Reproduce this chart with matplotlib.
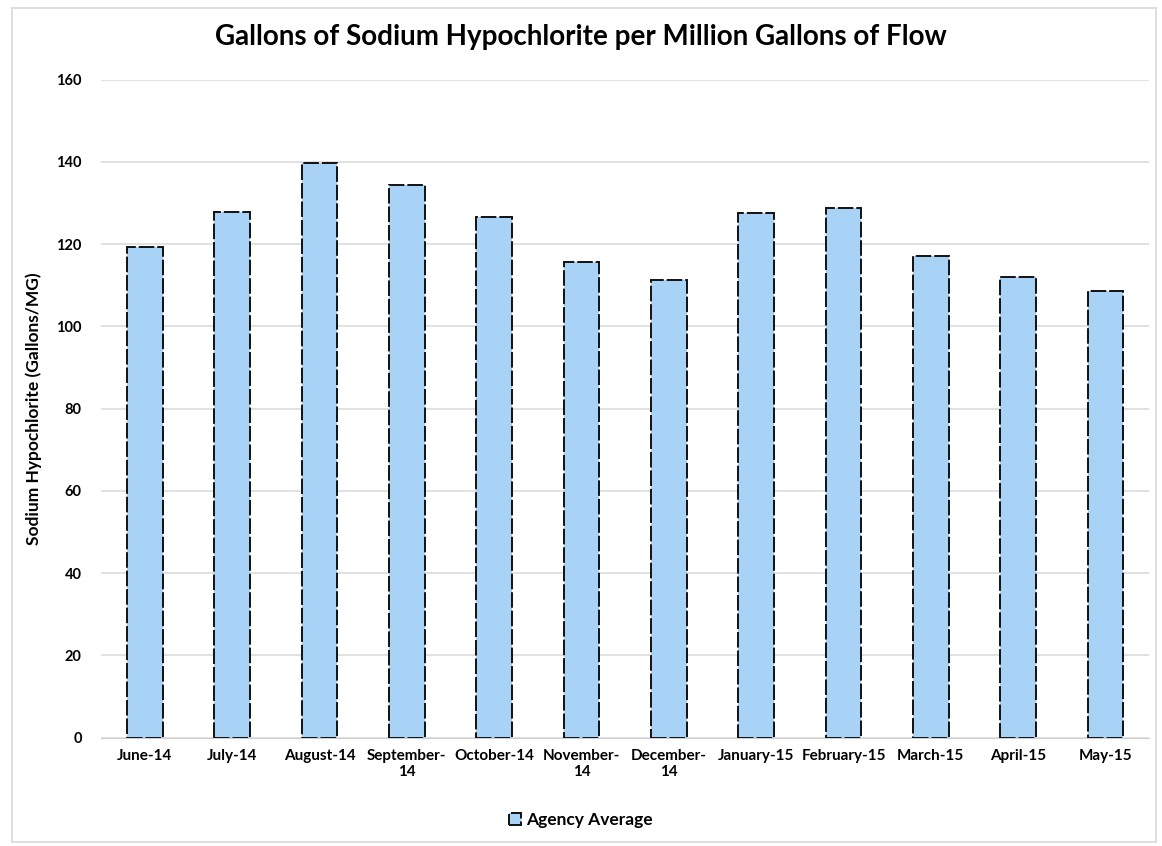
import matplotlib.pyplot as plt
from matplotlib.patches import Rectangle

months = ['June-14', 'July-14', 'August-14', 'September-\n14', 'October-14',
          'November-\n14', 'December-\n14', 'January-15', 'February-15',
          'March-15', 'April-15', 'May-15']
agency_average = [119.2, 127.7, 139.6, 134.4, 126.7, 115.7,
                  111.3, 127.5, 128.7, 117.0, 112.1, 108.5]
y_ticks = [0, 20, 40, 60, 80, 100, 120, 140, 160]

plt.rcParams['font.family'] = ['Lato', 'DejaVu Sans']

fig = plt.figure(figsize=(11.62, 8.46), dpi=100)
ax = fig.add_axes([0.087, 0.128, 0.902, 0.778])

x = range(len(months))
ax.bar(x, agency_average, width=0.41, color='#a8d3f6', edgecolor='#111111',
       linewidth=1.4, linestyle=(0, (8, 1.5)), label='Agency Average', zorder=3)

ax.set_xlim(-0.5, len(months) - 0.5)
ax.set_ylim(0, 160)
ax.set_yticks(y_ticks)
ax.set_xticks(list(x))
ax.set_xticklabels(months, fontsize=11, fontweight='bold', linespacing=1.2)
ax.tick_params(axis='y', labelsize=10.5, length=0, pad=14)
ax.tick_params(axis='x', length=0, pad=8)
for lbl in ax.get_yticklabels():
    lbl.set_fontweight('bold')

ax.grid(axis='y', color='#dcdcdc', linewidth=1.2, zorder=0)
for side in ['top', 'right', 'left']:
    ax.spines[side].set_visible(False)
ax.spines['bottom'].set_color('#d0d0d0')

ax.set_ylabel('Sodium Hypochlorite (Gallons/MG)', fontsize=12.5,
              fontweight='bold', labelpad=10)
fig.suptitle('Gallons of Sodium Hypochlorite per Million Gallons of Flow',
             fontsize=20, fontweight='bold', y=0.972)

leg = fig.legend(loc='center', bbox_to_anchor=(0.5, 0.031), frameon=False,
                 fontsize=12.5, handlelength=0.7, handleheight=0.7,
                 handletextpad=0.3)
for t in leg.get_texts():
    t.set_fontweight('bold')

# light outer frame around the chart
fig.patches.append(Rectangle((0.01, 0.005), 0.985, 0.985,
                             transform=fig.transFigure, fill=False,
                             edgecolor='#d8d8d8', linewidth=1.2))

fig.savefig('out.png', dpi=100)
